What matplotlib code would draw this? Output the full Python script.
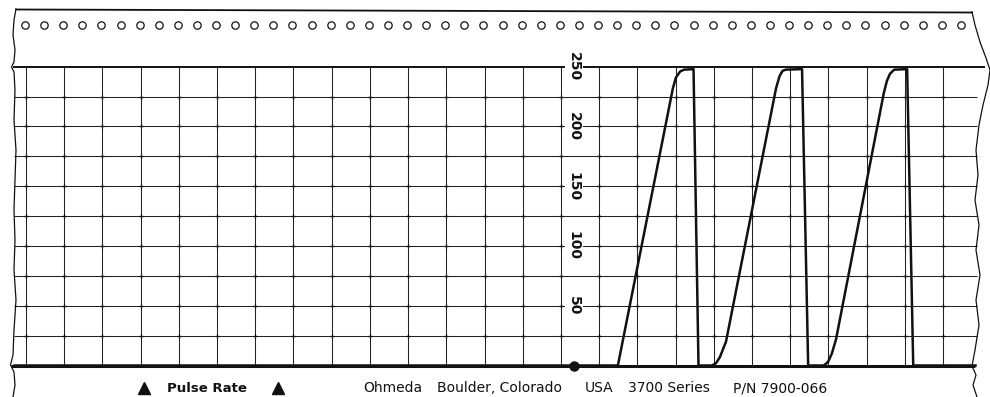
import numpy as np
import matplotlib
matplotlib.use('Agg')
import matplotlib.pyplot as plt

# ---------------- data ----------------
# time in chart-grid divisions, pulse rate in beats/min
time_div = [-0.30, 15.49, 16.93, 17.01, 17.12, 17.22, 17.47, 17.60,
            17.95, 18.06, 18.16, 18.32, 19.63, 19.72, 19.80, 19.88, 20.31, 20.47,
            20.88, 20.99, 21.09, 21.20, 22.45, 22.53, 22.61, 22.72, 23.06, 23.22, 24.85]
pulse_rate = [0, 0, 232, 241, 246, 247.5, 248, 0,
              0, 2, 7, 20, 232, 242, 246.5, 247.5, 248, 0,
              0, 3, 10, 22, 228, 238, 244, 247.5, 248, 0, 0]

scale_values = [50, 100, 150, 200, 250]
scale_labels = ['50', '100', '150', '200', '250']
grid_columns = list(range(0, 25))
grid_rows = [25, 50, 75, 100, 125, 150, 175, 200, 225]
event_time = 14.34
channel_label = 'Pulse Rate'
footer_parts = ['Ohmeda', 'Boulder, Colorado', 'USA', '3700 Series', 'P/N 7900-066']

# ---------------- layout helpers (pixel -> data) ----------------
PX0, PXU = 26.0, 38.21
PY0, PYU = 365.5, 1.1952


def ux(px):
    return (np.asarray(px, dtype=float) - PX0) / PXU


def vy(py):
    return (PY0 - np.asarray(py, dtype=float)) / PYU


fig = plt.figure(figsize=(9.9, 3.97), dpi=100)
fig.patch.set_facecolor('white')
ax = fig.add_axes([0, 0, 1, 1])
ax.set_xlim(ux(0), ux(990))
ax.set_ylim(vy(397), vy(0))
ax.axis('off')

ink = '#111111'

# paper torn edges
left_edge = np.array([(16, 9), (14, 20), (13, 35), (15, 50), (14, 62), (11.5, 67), (14, 72),
                      (15, 90), (14, 120), (16, 150), (15, 180), (14, 210), (15, 240),
                      (14, 270), (16, 300), (14, 330), (13, 355), (10.5, 365), (14, 372),
                      (15, 385), (13, 397)])
right_edge = np.array([(972, 12), (975, 25), (980, 42), (986, 58), (990, 70), (988, 85),
                       (983, 105), (979, 125), (976, 150), (978, 175), (975, 200),
                       (979, 225), (976, 250), (980, 275), (976, 300), (979, 325),
                       (975, 350), (972, 366), (976, 375), (973, 385), (977, 397)])
ax.plot(ux(left_edge[:, 0]), vy(left_edge[:, 1]), color=ink, lw=0.9)
ax.plot(ux(right_edge[:, 0]), vy(right_edge[:, 1]), color=ink, lw=0.9)

# top border of paper
ax.plot(ux([16, 972]), vy([9.5, 12.5]), color=ink, lw=1.3)

# sprocket holes
hole_px = 25 + 19.1 * np.arange(50)
ax.plot(ux(hole_px), np.full(hole_px.shape, vy(25)), 'o', ms=5.3, mfc='white',
        mec=ink, mew=0.9, ls='none')

# grid
ax.vlines(grid_columns, 0, 250, color='#222222', lw=0.75, zorder=1)
ax.hlines(grid_rows, ux(14), ux(977), color='#222222', lw=0.75, zorder=1)
gx, gy = np.meshgrid(grid_columns, grid_rows)
ax.plot(gx.ravel(), gy.ravel(), '+', ms=3.2, mew=0.9, color=ink, ls='none', zorder=1)
ax.hlines([250], ux(13), ux(985), color=ink, lw=1.4, zorder=2)
ax.hlines([0], ux(11), ux(975), color=ink, lw=2.2, zorder=2)

# scale labels (white background interrupts grid)
for val, lab in zip(scale_values, scale_labels):
    ax.text(event_time, val, lab, rotation=270, ha='center', va='center',
            fontsize=10, fontweight='bold', color=ink, zorder=3,
            bbox=dict(facecolor='white', edgecolor='none', pad=1.2))

# trace
ax.plot(time_div, pulse_rate, color=ink, lw=1.8, solid_joinstyle='round', zorder=4)
ax.plot([event_time], [0], 'o', ms=6.5, color=ink, zorder=5)

# footer
fy = vy(388)
ax.plot(ux([144, 278]), [fy, fy], '^', ms=8, color=ink, ls='none')
ax.text(ux(167), fy, channel_label, ha='left', va='center', fontsize=9.5,
        fontweight='bold', color=ink)
for txt, px in zip(footer_parts, [363, 437, 585, 628, 733]):
    ax.text(ux(px), fy, txt, ha='left', va='center', fontsize=10, color=ink)

fig.savefig('out.png', dpi=100, facecolor='white')
